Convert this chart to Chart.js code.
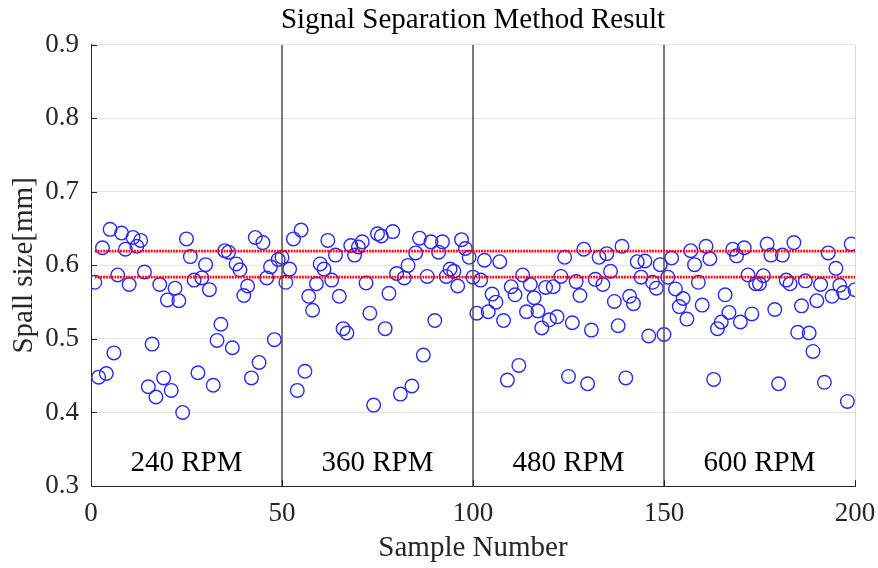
<!DOCTYPE html>
<html>
<head>
<meta charset="utf-8">
<script src="https://cdn.jsdelivr.net/npm/chart.js@4/dist/chart.umd.min.js"></script>
<style>
    html, body { margin: 0; padding: 0; background: #fff; }
    #wrap { width: 878px; height: 568px; }
</style>
</head>
<body>
<div id="wrap"><canvas id="chartSpall" width="878" height="568"></canvas></div>
<script>
// ====================================
// DATA
// ====================================

// spall size per sample (samples 1..200)
const spallSize = [
    0.577, 0.448, 0.624, 0.453, 0.649, 0.481, 0.587, 0.644, 0.622, 0.574,
    0.638, 0.626, 0.634, 0.591, 0.435, 0.493, 0.421, 0.574, 0.447, 0.553,
    0.430, 0.569, 0.552, 0.400, 0.636, 0.612, 0.580, 0.454, 0.583, 0.601,
    0.567, 0.437, 0.498, 0.520, 0.620, 0.618, 0.488, 0.602, 0.594, 0.559,
    0.572, 0.447, 0.638, 0.468, 0.631, 0.583, 0.598, 0.499, 0.608, 0.611,
    0.577, 0.595, 0.636, 0.430, 0.648, 0.456, 0.558, 0.539, 0.575, 0.602,
    0.595, 0.634, 0.580, 0.614, 0.558, 0.514, 0.508, 0.627, 0.614, 0.625,
    0.632, 0.576, 0.535, 0.410, 0.643, 0.640, 0.514, 0.562, 0.646, 0.589,
    0.425, 0.583, 0.600, 0.436, 0.617, 0.637, 0.478, 0.585, 0.632, 0.525,
    0.618, 0.632, 0.585, 0.595, 0.592, 0.572, 0.635, 0.623, 0.611, 0.584,
    0.535, 0.580, 0.607, 0.537, 0.561, 0.550, 0.605, 0.525, 0.444, 0.571,
    0.560, 0.464, 0.587, 0.537, 0.574, 0.556, 0.538, 0.515, 0.570, 0.526,
    0.571, 0.530, 0.585, 0.611, 0.449, 0.522, 0.578, 0.559, 0.622, 0.439,
    0.512, 0.581, 0.611, 0.574, 0.616, 0.592, 0.551, 0.518, 0.626, 0.447,
    0.558, 0.548, 0.605, 0.584, 0.606, 0.504, 0.577, 0.569, 0.601, 0.506,
    0.584, 0.610, 0.568, 0.544, 0.555, 0.527, 0.620, 0.601, 0.577, 0.546,
    0.626, 0.609, 0.445, 0.514, 0.523, 0.560, 0.536, 0.622, 0.613, 0.523,
    0.624, 0.587, 0.534, 0.575, 0.575, 0.586, 0.629, 0.614, 0.540, 0.439,
    0.614, 0.580, 0.575, 0.631, 0.509, 0.545, 0.579, 0.508, 0.483, 0.552,
    0.574, 0.441, 0.617, 0.558, 0.596, 0.573, 0.563, 0.415, 0.629, 0.567
];

// red threshold lines (upper, lower) spanning the samples
const thresholdLines = [0.6195, 0.584];
const thresholdRange = [1, 200];

// speed sections
const sectionDividers = [50, 100, 150];
const sectionLabels = ['240 RPM', '360 RPM', '480 RPM', '600 RPM'];
const sectionCenters = [25, 75, 125, 175];

// axis ticks
const xTicks = [0, 50, 100, 150, 200];
const yTicks = [0.3, 0.4, 0.5, 0.6, 0.7, 0.8, 0.9];

// ====================================
// CHART
// ====================================

const FONT = "'Liberation Serif', 'Times New Roman', serif";
const AXIS_COLOR = '#262626';
const LABEL_Y = 0.331;

// draws section labels, inward ticks and the light box edge
const matlabFrame = {
    id: 'matlabFrame',
    afterDatasetsDraw(chart) {
        const { ctx, chartArea, scales } = chart;
        const x = scales.x;
        const y = scales.y;
        ctx.save();

        // RPM labels
        ctx.fillStyle = '#000';
        ctx.font = '29px ' + FONT;
        ctx.textAlign = 'center';
        ctx.textBaseline = 'middle';
        sectionLabels.forEach((txt, i) => {
            ctx.fillText(txt, x.getPixelForValue(sectionCenters[i]), y.getPixelForValue(LABEL_Y));
        });

        // light right edge
        ctx.strokeStyle = '#d9d9d9';
        ctx.lineWidth = 1;
        ctx.beginPath();
        ctx.moveTo(chartArea.right + 0.5, chartArea.top);
        ctx.lineTo(chartArea.right + 0.5, chartArea.bottom);
        ctx.stroke();

        // inward ticks
        ctx.strokeStyle = AXIS_COLOR;
        ctx.lineWidth = 1;
        ctx.beginPath();
        yTicks.forEach(v => {
            const py = Math.round(y.getPixelForValue(v)) + 0.5;
            ctx.moveTo(chartArea.left, py);
            ctx.lineTo(chartArea.left + 6, py);
        });
        xTicks.forEach(v => {
            const px = Math.round(x.getPixelForValue(v)) + 0.5;
            ctx.moveTo(px, chartArea.bottom);
            ctx.lineTo(px, chartArea.bottom - 6);
        });
        ctx.stroke();
        ctx.restore();
    }
};

function buildDatasets() {
    const datasets = [];

    datasets.push({
        type: 'scatter',
        label: 'Spall size',
        data: spallSize.map((v, i) => ({ x: i + 1, y: v })),
        pointStyle: 'circle',
        pointRadius: 6.8,
        pointHoverRadius: 6.8,
        borderWidth: 1.4,
        borderColor: '#2a2af2',
        backgroundColor: 'rgba(0,0,0,0)',
        order: 3
    });

    sectionDividers.forEach(d => {
        datasets.push({
            type: 'line',
            data: [{ x: d, y: yTicks[0] }, { x: d, y: yTicks[yTicks.length - 1] }],
            borderColor: '#4d4d4d',
            borderWidth: 1.5,
            pointRadius: 0,
            order: 2
        });
    });

    thresholdLines.forEach(t => {
        datasets.push({
            type: 'line',
            data: [{ x: thresholdRange[0], y: t }, { x: thresholdRange[1], y: t }],
            borderColor: '#ff0000',
            borderWidth: 2.8,
            borderDash: [1.8, 1],
            pointRadius: 0,
            order: 1
        });
    });

    return datasets;
}

const ctx = document.getElementById('chartSpall');

const chartSpall = new Chart(ctx, {
    data: { datasets: buildDatasets() },
    options: {
        responsive: false,
        animation: false,
        devicePixelRatio: 1,
        layout: { padding: { left: 0, right: 23, top: 0, bottom: 0 } },
        plugins: {
            legend: { display: false },
            tooltip: { enabled: false },
            title: {
                display: true,
                fullSize: false,
                text: 'Signal Separation Method Result',
                color: '#000',
                font: { family: FONT, size: 29, weight: 'normal' },
                padding: { top: 3, bottom: 7 }
            }
        },
        scales: {
            x: {
                type: 'linear',
                min: 0,
                max: 200,
                afterBuildTicks: s => { s.ticks = xTicks.map(v => ({ value: v })); },
                afterFit: s => {
                    s.height = 82;
                    s.paddingLeft = 0;
                    s.paddingRight = 0;
                },
                grid: { display: false, drawTicks: false },
                border: { display: true, color: AXIS_COLOR, width: 1 },
                ticks: {
                    color: AXIS_COLOR,
                    font: { family: FONT, size: 27 },
                    padding: 12,
                    maxRotation: 0,
                    autoSkip: false
                },
                title: {
                    display: true,
                    text: 'Sample Number',
                    color: AXIS_COLOR,
                    font: { family: FONT, size: 29 },
                    padding: { top: 0, bottom: 2 }
                }
            },
            y: {
                type: 'linear',
                min: 0.3,
                max: 0.9,
                afterBuildTicks: s => { s.ticks = yTicks.map(v => ({ value: v })); },
                afterFit: s => { s.width = 91; },
                grid: { color: '#e3e3e3', lineWidth: 1, drawTicks: false },
                border: { display: true, color: AXIS_COLOR, width: 1 },
                ticks: {
                    color: AXIS_COLOR,
                    font: { family: FONT, size: 27 },
                    padding: 12,
                    callback: v => v.toFixed(1)
                },
                title: {
                    display: true,
                    text: 'Spall size[mm]',
                    color: AXIS_COLOR,
                    font: { family: FONT, size: 29 },
                    padding: { top: 7, bottom: 0 }
                }
            }
        }
    },
    plugins: [matlabFrame]
});
</script>
</body>
</html>
